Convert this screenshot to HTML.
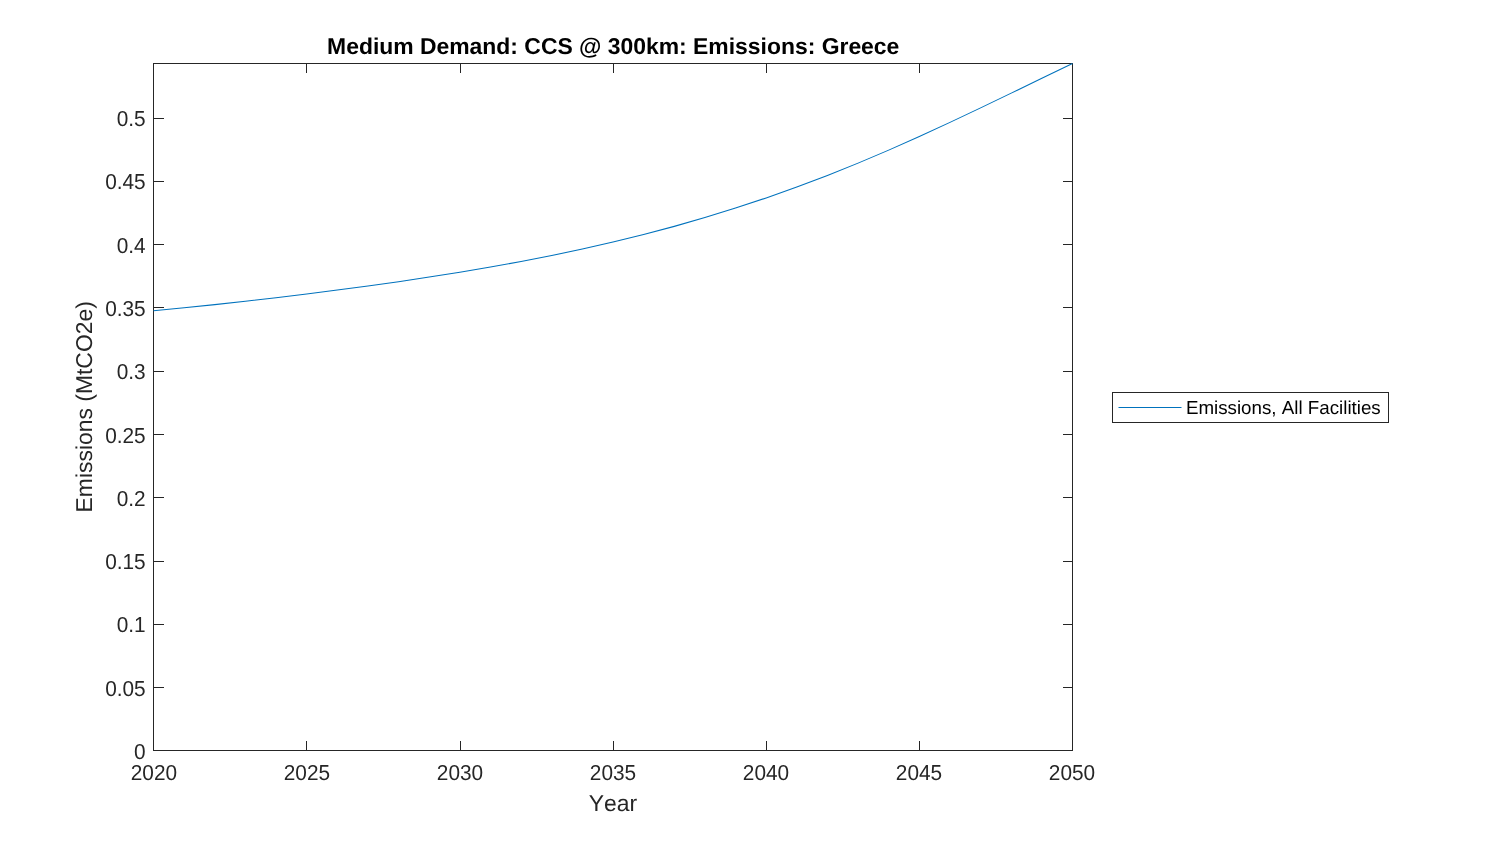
<!DOCTYPE html>
<html lang="en">
<head>
<meta charset="utf-8">
<title>Medium Demand: CCS @ 300km: Emissions: Greece</title>
<style>
html,body{margin:0;padding:0;background:#fff;}
body{width:1500px;height:844px;overflow:hidden;}
svg{display:block;}
text{font-family:"Liberation Sans",Arial,Helvetica,sans-serif;font-kerning:none;text-rendering:geometricPrecision;}
.tk{font-size:20.83px;fill:#262626;}
.lb{font-size:22.92px;fill:#262626;}
.tt{font-size:22.92px;font-weight:bold;fill:#000;}
.lg{font-size:18.75px;fill:#000;}
</style>
</head>
<body>
<svg width="1500" height="844" viewBox="0 0 1500 844">
<rect x="0" y="0" width="1500" height="844" fill="#ffffff"/>
<g stroke="#262626" stroke-width="1" fill="none" shape-rendering="crispEdges">
<rect x="153.5" y="63.5" width="919" height="687"/>
<line x1="154" y1="687.5" x2="164" y2="687.5"/>
<line x1="1063" y1="687.5" x2="1072" y2="687.5"/>
<line x1="154" y1="624.5" x2="164" y2="624.5"/>
<line x1="1063" y1="624.5" x2="1072" y2="624.5"/>
<line x1="154" y1="561.5" x2="164" y2="561.5"/>
<line x1="1063" y1="561.5" x2="1072" y2="561.5"/>
<line x1="154" y1="497.5" x2="164" y2="497.5"/>
<line x1="1063" y1="497.5" x2="1072" y2="497.5"/>
<line x1="154" y1="434.5" x2="164" y2="434.5"/>
<line x1="1063" y1="434.5" x2="1072" y2="434.5"/>
<line x1="154" y1="371.5" x2="164" y2="371.5"/>
<line x1="1063" y1="371.5" x2="1072" y2="371.5"/>
<line x1="154" y1="307.5" x2="164" y2="307.5"/>
<line x1="1063" y1="307.5" x2="1072" y2="307.5"/>
<line x1="154" y1="244.5" x2="164" y2="244.5"/>
<line x1="1063" y1="244.5" x2="1072" y2="244.5"/>
<line x1="154" y1="181.5" x2="164" y2="181.5"/>
<line x1="1063" y1="181.5" x2="1072" y2="181.5"/>
<line x1="154" y1="118.5" x2="164" y2="118.5"/>
<line x1="1063" y1="118.5" x2="1072" y2="118.5"/>
<line x1="306.5" y1="741" x2="306.5" y2="750"/>
<line x1="306.5" y1="64" x2="306.5" y2="73"/>
<line x1="460.5" y1="741" x2="460.5" y2="750"/>
<line x1="460.5" y1="64" x2="460.5" y2="73"/>
<line x1="613.5" y1="741" x2="613.5" y2="750"/>
<line x1="613.5" y1="64" x2="613.5" y2="73"/>
<line x1="766.5" y1="741" x2="766.5" y2="750"/>
<line x1="766.5" y1="64" x2="766.5" y2="73"/>
<line x1="919.5" y1="741" x2="919.5" y2="750"/>
<line x1="919.5" y1="64" x2="919.5" y2="73"/>
</g>
<polyline points="153.50,310.80 184.13,307.81 214.77,304.61 245.40,301.22 276.03,297.66 306.67,293.93 337.30,290.04 367.93,285.95 398.57,281.65 429.20,277.08 459.83,272.23 490.47,267.05 521.10,261.50 551.73,255.52 582.37,249.06 613.00,242.08 643.63,234.53 674.27,226.37 704.90,217.57 735.53,208.10 766.17,197.94 796.80,187.05 827.43,175.44 858.07,163.12 888.70,150.12 919.33,136.51 949.97,122.38 980.60,107.87 1011.23,93.11 1041.87,78.28 1072.50,63.50" fill="none" stroke="#0072BD" stroke-width="1.05" stroke-linejoin="round"/>
<g class="tk" text-anchor="end">
<text transform="translate(145.7,759) scale(1,1.04)">0</text>
<text transform="translate(145.7,696) scale(1,1.04)">0.05</text>
<text transform="translate(145.7,632) scale(1,1.04)">0.1</text>
<text transform="translate(145.7,569) scale(1,1.04)">0.15</text>
<text transform="translate(145.7,506) scale(1,1.04)">0.2</text>
<text transform="translate(145.7,443) scale(1,1.04)">0.25</text>
<text transform="translate(145.7,379) scale(1,1.04)">0.3</text>
<text transform="translate(145.7,316) scale(1,1.04)">0.35</text>
<text transform="translate(145.7,253) scale(1,1.04)">0.4</text>
<text transform="translate(145.7,189) scale(1,1.04)">0.45</text>
<text transform="translate(145.7,126) scale(1,1.04)">0.5</text>
</g>
<g class="tk" text-anchor="middle">
<text transform="translate(153.90,780.0) scale(1,1.04)">2020</text>
<text transform="translate(306.90,780.0) scale(1,1.04)">2025</text>
<text transform="translate(460.00,780.0) scale(1,1.04)">2030</text>
<text transform="translate(613.00,780.0) scale(1,1.04)">2035</text>
<text transform="translate(766.00,780.0) scale(1,1.04)">2040</text>
<text transform="translate(919.00,780.0) scale(1,1.04)">2045</text>
<text transform="translate(1072.00,780.0) scale(1,1.04)">2050</text>
</g>
<text class="tt" text-anchor="middle" transform="translate(613.2,54) scale(1,1.0)">Medium Demand: CCS @ 300km: Emissions: Greece</text>
<text class="lb" text-anchor="middle" transform="translate(613.0,811) scale(1,1.0)">Year</text>
<text class="lb" text-anchor="middle" transform="translate(92.4,406.8) rotate(-90) scale(1,1.0)">Emissions (MtCO2e)</text>
<rect x="1112.5" y="392.5" width="276" height="30" fill="#fff" stroke="#262626" stroke-width="1" shape-rendering="crispEdges"/>
<line x1="1118.5" y1="407.5" x2="1181.5" y2="407.5" stroke="#0072BD" stroke-width="1"/>
<text class="lg" transform="translate(1185.9,414.0) scale(1,1.0)">Emissions, All Facilities</text>
</svg>
</body>
</html>
